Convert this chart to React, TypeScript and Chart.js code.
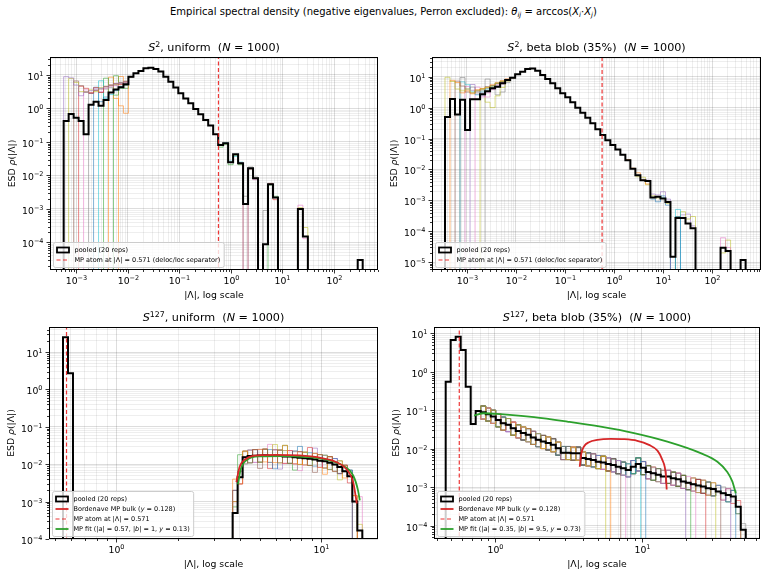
import React, { useEffect, useRef } from "react";
import { Chart, registerables } from "chart.js";

Chart.register(...registerables);

const FONT = "'DejaVu Sans', 'Liberation Sans', Arial, sans-serif";
const TAB10 = ["#1f77b4", "#ff7f0e", "#2ca02c", "#d62728", "#9467bd", "#8c564b", "#e377c2", "#7f7f7f", "#bcbd22", "#17becf"];
const MP_ATOM = 0.571;

// ---------------- DATA ----------------
// Panel 1: S^2 uniform. 60 log bins between 10^lo and 10^hi
const P1_BINS = { lo: -3.249, hi: 2.557, n: 60 };
const P1_POOLED = [0.42, 0.69, 0.53, 0.42, 0.17, 1.3, 1.6, 1.2, 1.8, 3.0, 3.7, 4.3, 5.3, 8.9, 11.3, 13.2, 15.8, 16.5, 15, 12.6, 8.9, 6.3, 4.2, 2.85, 2.0, 1.43, 0.97, 0.67, 0.45, 0.31, 0.17, 0.081, 0.091, 0.025, 0.043, 0.023, 0.0014, 0.0164, 0.0083, 0, 0.000089, 0.0055, 0.0022, 0, 0, 0, 0, 0.001, 0.00015, 0, 0, 0, 0, 0, 0, 0, 0, 0, 0, 0.00003];
const P1_REPS = [
  { c: 4, b: 0, up: 1, v: [8.9, 8.2, 5.0, 2.4, 3.0, 3.4, 3.8, 4.0, 4.5, 5.0, 5.5, 6.0, 6.5, 8.9] },
  { c: 8, b: 1, up: 1, v: [7.8, 6.0, 3.2, 3.0, 3.6, 3.2, 4.2, 4.6, 5.0, 5.3, 6.0, 6.5, 8.9] },
  { c: 5, b: 2, up: 1, v: [6.6, 4.8, 3.2, 2.8, 3.5, 3.8, 4.4, 4.8, 5.4, 6.0, 6.2, 8.9] },
  { c: 3, b: 3, up: 1, v: [4.6, 4.0, 3.0, 4.2, 3.0, 4.5, 5.0, 5.5, 5.2, 6.4, 8.9] },
  { c: 6, b: 4, up: 1, v: [3.6, 2.8, 3.5, 3.2, 4.0, 4.6, 4.8, 5.6, 6.0, 8.9] },
  { c: 7, b: 5, up: 1, v: [2.8, 3.4, 3.0, 3.8, 4.2, 5.0, 5.5, 5.8, 8.9] },
  { c: 0, b: 6, up: 1, v: [4.3, 1.6, 2.2, 3.0, 3.6, 4.2, 5.0, 8.9] },
  { c: 9, b: 7, up: 1, v: [6.7, 2.0, 2.6, 3.4, 4.5, 5.2, 8.9] },
  { c: 2, b: 8, up: 1, v: [8.0, 3.0, 2.5, 4.0, 5.0, 8.9] },
  { c: 1, b: 9, up: 1, v: [8.6, 2.0, 1.2, 0.72, 8.9] },
  { c: 2, b: 10, up: 1, v: [9.5, 5.5, 4.0, 8.9] },
  { c: 1, b: 11, up: 1, v: [9.0, 5.0, 8.9] },
  { c: 2, b: 31, v: [0.07, 0.085, 0.021, 0.04, 0.021] },
  { c: 9, b: 32, v: [0.095, 0.027, 0.037, 0.025] },
  { c: 7, b: 35, v: [0.023, 0.0024, 0.018, 0.009, 0, 0.0009, 0.0055] },
  { c: 5, b: 35, v: [0.022, 0, 0.015, 0.0085, 0] },
  { c: 6, b: 35, v: [0.024, 0, 0.016, 0.0075, 0] },
  { c: 2, b: 39, v: [0, 0, 0.0052, 0.0024, 0] },
  { c: 3, b: 41, v: [0.0058, 0.0019, 0] },
  { c: 6, b: 46, v: [0, 0.0013, 0.00013, 0] },
  { c: 8, b: 46, v: [0, 0.0011, 0.00028, 0] },
];

// Panel 2: S^2 beta blob
const P2_BINS = { lo: -3.443, hi: 2.68, n: 60 };
const P2_POOLED = [0.5, 1.9, 0.6, 1.8, 0.19, 1.86, 1.86, 2.7, 3.4, 4.2, 4.75, 6.1, 7.8, 9.3, 11.9, 14.5, 17.7, 18.6, 15.6, 11.3, 8.4, 6.1, 4.2, 2.9, 2.15, 1.48, 1.0, 0.68, 0.47, 0.31, 0.2, 0.13, 0.088, 0.062, 0.044, 0.03, 0.02, 0.0105, 0.0065, 0.0045, 0.0042, 0.00125, 0.0013, 0.00115, 0.00089, 0.000015, 0.00027, 0.00027, 0.00018, 0.000126, 0, 0, 0, 0, 0, 0.0000295, 0.000023, 0, 0, 0.0000117];
const P2_REPS = [
  { c: 8, b: 0, up: 1, v: [9.6, 7.0, 4.0, 3.5, 4.0, 3.0, 3.5, 4.0, 4.5, 5.0, 6.0, 7.0, 8.0, 9.3] },
  { c: 1, b: 1, up: 1, v: [7.6, 6.5, 3.0, 3.5, 2.8, 3.8, 4.2, 4.5, 5.5, 6.5, 7.5, 8.5, 9.3] },
  { c: 5, b: 2, up: 1, v: [7.2, 5.0, 3.2, 3.0, 3.5, 4.0, 4.8, 5.2, 6.0, 7.0, 8.0, 9.3] },
  { c: 7, b: 3, up: 1, v: [9.4, 4.0, 4.6, 3.0, 3.5, 4.2, 5.0, 6.0, 7.0, 7.5, 9.3] },
  { c: 9, b: 3, up: 1, v: [6.8, 5.5, 3.4, 2.6, 3.2, 4.0, 5.0, 6.3, 7.2, 8.0, 9.3] },
  { c: 6, b: 4, up: 1, v: [4.8, 3.6, 2.7, 2.2, 3.0, 4.2, 5.5, 6.5, 8.2, 9.3] },
  { c: 4, b: 5, up: 1, v: [5.6, 3.4, 2.4, 3.3, 4.0, 5.0, 6.5, 8.0, 9.3] },
  { c: 6, b: 6, up: 1, v: [4.6, 3.0, 2.2, 3.8, 4.6, 5.8, 7.5, 9.3] },
  { c: 8, b: 7, up: 1, v: [4.0, 1.5, 1.0, 2.4, 4.5, 7.2, 9.3] },
  { c: 7, b: 8, up: 1, v: [8.4, 4.5, 2.6, 3.2, 6.5, 9.3] },
  { c: 1, b: 36, v: [0.021, 0.011, 0.0078, 0.0046, 0.0034] },
  { c: 8, b: 38, v: [0.0058, 0.0056, 0.0032, 0.0014, 0.0012] },
  { c: 4, b: 40, v: [0.0045, 0.0016, 0.0015, 0.0019, 0.0011, 0] },
  { c: 0, b: 41, v: [0.0011, 0.0009, 0.0014, 0.0007, 0, 0.0003, 0] },
  { c: 9, b: 43, v: [0.0012, 0.0009, 0, 0.00051, 0] },
  { c: 8, b: 44, v: [0.0008, 0, 0.0003, 0.00043, 0.00025, 0.0003, 0] },
  { c: 4, b: 46, v: [0.0003, 0.00034, 0.00036, 0.00015, 0] },
  { c: 6, b: 54, v: [0, 0.000062, 0.00003, 0] },
  { c: 8, b: 55, v: [0.00002, 0.000052, 0] },
];

// Panel 3: S^127 uniform
const P3_BINS = { lo: -0.2605, hi: 1.2, n: 60 };
const P3_POOLED = [25, 2.7,
  0, 0, 0, 0, 0, 0, 0, 0, 0, 0,
  0, 0, 0, 0, 0, 0, 0, 0, 0, 0,
  0, 0, 0, 0, 0, 0, 0, 0, 0, 0,
  0, 0,
  0.0005, 0.0045, 0.0155, 0.0165, 0.017, 0.0172, 0.0175, 0.017, 0.0168, 0.0165,
  0.016, 0.016, 0.0155, 0.015, 0.0145, 0.014, 0.0135, 0.0125, 0.012, 0.011,
  0.0098, 0.0085, 0.0065, 0.0048, 0.001, 0.00017];
// per-replicate deviations from the pooled curve, bin by bin (l = low, h = high, m = same ...)
const P3_REPS = [
  { c: 5, o: 0, pat: "xhmlh Lhmhl mlhhm lLhmh mlhm" },
  { c: 1, o: 0, pat: "Xlhmh hlmlh Hmlhl mhlLh mhlmh" },
  { c: 8, o: 0, pat: "Hmhlm lhmHl hlmlh lmhhl mLhmh h" },
  { c: 0, o: 0, pat: "xmhlh lmhLh mlhHm hlmhl hlmh" },
  { c: 3, o: 0, pat: "Hlhmh lhLmh lhmlh Hmhlh lmhlm" },
  { c: 6, o: 0, pat: "xhlhl mhHhm lhlLm lhlml hlhmm X" },
  { c: 4, o: 0, pat: "Hlmhl hmlhL hmlhl mHlhl hlmh" },
  { c: 2, o: 0, pat: "hxlhm lhlmh HlLmh lhmlh lhmhm" },
];
const P3_RED_X = [3.85, 3.99, 4.3, 5.0, 6.03, 7.8, 9.8, 11.8, 13.2, 14.3, 14.9];
const P3_RED_Y = [0.0033, 0.0084, 0.0141, 0.0174, 0.0178, 0.0172, 0.015, 0.0115, 0.0076, 0.0033, 0.00089];
const P3_GREEN_X = [3.92, 4.03, 4.3, 5.0, 6.5, 8.45, 10.6, 12.7, 14.3, 15.1, 15.4];
const P3_GREEN_Y = [0.0029, 0.0069, 0.0127, 0.0163, 0.0166, 0.0156, 0.0132, 0.0093, 0.005, 0.002, 0.00108];

// Panel 4: S^127 beta blob
const P4_BINS = { lo: -0.336, hi: 1.709, n: 60 };
const P4_POOLED = [0.55, 6.7, 8.2, 3.7, 0.41, 0.044, 0.096, 0.089, 0.079, 0.069,
  0.056, 0.046, 0.042, 0.034, 0.029, 0.0255, 0.023, 0.0196, 0.017, 0.0153,
  0.014, 0.0126, 0.0103, 0.0079, 0.0079, 0.0076, 0.0076, 0.0057, 0.0054, 0.0051,
  0.0046, 0.0044, 0.004, 0.0038, 0.0034, 0.0031, 0.0028, 0.0034, 0.004, 0.0032,
  0.0025, 0.0023, 0.0021, 0.0019, 0.0019, 0.0017, 0.0016, 0.0014, 0.0013, 0.0012,
  0.0011, 0.00105, 0.00094, 0.0009, 0.00077, 0.0007, 0.00063, 0.00057, 0.00031, 0.000078];
const P4_REPS = [
  { c: 8, o: 0, pat: "mhlhl mhlhh lmhlh lhmlh lhlml h" },
  { c: 1, o: 0, pat: "mlhlh lmhlh hlmlh lhmlh lhlml hl" },
  { c: 5, o: 0, pat: "mhlhm lhlhl mhlhl hmlhl hlmhl hlhl" },
  { c: 6, o: 0, pat: "mlhlh mlhlh lhmlh lhlmh lhlhm lhlhl" },
  { c: 7, o: 0, pat: "mhlhl hmlhl hlmhl hlhml hlhlm hlhlh l" },
  { c: 9, o: 0, pat: "mlhlh lhmlh lhlmh lhlhm lhlhl mhlhl hlh" },
  { c: 0, o: 0, pat: "mhlhl hlmhl hlhml hlhlm hlhlh mlhlh lhlh" },
  { c: 4, o: 0, pat: "mlhlh lmhlh lhmlh lhlmh lhlhm lhlhl mhlhl hmlhl hl" },
  { c: 2, o: 0, pat: "mhlhl hmlhl hlmhl hlhml hlhlm hlhlh mlhlh lhmlh lhl" },
  { c: 6, o: 0, pat: "mlhlh mlhlh lmhlh lhmlh lhlmh lhlhm lhlhl mhlhl hlhl" },
  { c: 3, o: 0, pat: "mhlhl hmlhl hlmhl hlhml hlhlm hlhlh mlhlh lhmlh lhlmh l" },
  { c: 8, o: 0, pat: "mlhlh lmhlh lhmlh lhlmh lhlhm lhlhl mhlhl hmlhl hlmhl hlh" },
  { c: 5, o: 0, pat: "mhlhl mhlhl hmlhl hlmhl hlhml hlhlm hlhlh mlhlh lhmlh lhlm" },
  { c: 4, o: 0, pat: "mlhlh mlhlh lmhlh lhmlh lhlmh lhlhm lhlhl mhlhl hmlhl hlmhl h" },
  { c: 0, o: 0, pat: "mhlhl hmlhl hlmhl hlhml hlhlm hlhlh mlhlh lhmlh lhlmh lhlhm lh" },
  { c: 3, o: 0, pat: "mlhlh lmhlh lhmlh lhlmh lhlhm lhlhl mhlhl hmlhl hlmhl hlhml hlh" },
  { c: 7, o: 0, pat: "mhlhl mhlhl hmlhl hlmhl hlhml hlhlm hlhlh mlhlh lhmlh lhlmh lhlh" },
  { c: 2, o: 0, pat: "mlhlh lmhlh hlmlh lhmlh lhlml hlhlh mlhlh lhmlh lhlmh lhlhm lhl" },
];
const P4_RED_X = [3.78, 3.88, 4.04, 4.37, 4.98, 6.15, 7.57, 9.33, 11.2, 12.8, 13.8, 14.6, 14.8];
const P4_RED_Y = [0.0034, 0.0076, 0.0114, 0.0148, 0.017, 0.018, 0.0177, 0.0161, 0.0126, 0.0089, 0.0052, 0.0021, 0.00087];
const P4_GREEN_X = [0.719, 0.841, 1.094, 1.845, 3.11, 5.25, 8.86, 14.95, 25.2, 32.8, 38.3, 41.5, 43.7];
const P4_GREEN_Y = [0.0724, 0.0836, 0.079, 0.066, 0.0506, 0.0374, 0.0255, 0.0153, 0.0077, 0.0046, 0.0025, 0.0014, 0.0007];

// ---------------- helpers ----------------
type Run = { t: string; it?: boolean; sup?: boolean; sub?: boolean };
const FACT: Record<string, number> = { "0": 0, L: 0.45, l: 0.66, m: 1, h: 1.45, H: 2, x: 4, X: 8 };
const TINY = 1e-9;

function fontOf(r: Run, size: number) {
  const s = r.sup || r.sub ? size * 0.7 : size;
  return `${r.it ? "italic " : ""}${s}px ${FONT}`;
}
function runsWidth(ctx: CanvasRenderingContext2D, runs: Run[], size: number) {
  let w = 0;
  for (const r of runs) { ctx.font = fontOf(r, size); w += ctx.measureText(r.t).width; }
  return w;
}
function drawRuns(ctx: CanvasRenderingContext2D, runs: Run[], x: number, y: number, size: number, align: string) {
  const w = runsWidth(ctx, runs, size);
  let cx = align === "center" ? x - w / 2 : align === "right" ? x - w : x;
  ctx.textAlign = "left";
  ctx.textBaseline = "alphabetic";
  for (const r of runs) {
    ctx.font = fontOf(r, size);
    const dy = r.sup ? -size * 0.4 : r.sub ? size * 0.22 : 0;
    ctx.fillText(r.t, cx, y + dy);
    cx += ctx.measureText(r.t).width;
  }
}
function expRuns(e: number): Run[] {
  return [{ t: "10" }, { t: (e < 0 ? "\u2212" : "") + Math.abs(e), sup: true }];
}
function rgba(hex: string, a: number) {
  const n = parseInt(hex.slice(1), 16);
  return `rgba(${(n >> 16) & 255},${(n >> 8) & 255},${n & 255},${a})`;
}
function edgeAt(b: { lo: number; hi: number; n: number }, pos: number) {
  return Math.pow(10, b.lo + (pos * (b.hi - b.lo)) / b.n);
}
function stepPts(b: any, start: number, vals: number[], up: boolean, down: boolean) {
  const pts: { x: number; y: number }[] = [];
  if (up) pts.push({ x: edgeAt(b, start), y: TINY });
  vals.forEach((v, i) => pts.push({ x: edgeAt(b, start + i), y: v > 0 ? v : TINY }));
  const last = vals[vals.length - 1];
  pts.push({ x: edgeAt(b, start + vals.length), y: last > 0 ? last : TINY });
  if (down) pts.push({ x: edgeAt(b, start + vals.length), y: TINY });
  return pts;
}
function logTicks(min: number, max: number) {
  const out: { value: number; major: boolean }[] = [];
  for (let e = Math.floor(Math.log10(min)) - 1; e <= Math.ceil(Math.log10(max)); e++) {
    for (let k = 1; k <= 9; k++) {
      const v = parseFloat((k * Math.pow(10, e)).toPrecision(6));
      if (v >= min * 0.9999 && v <= max * 1.0001) out.push({ value: v, major: k === 1 });
    }
  }
  return out;
}

type LegendItem = { kind: string; color: string; runs: Run[] };

const L_POOLED: LegendItem = { kind: "box", color: "#000", runs: [{ t: "pooled (20 reps)" }] };
const L_ATOM_LONG: LegendItem = { kind: "dash", color: "rgba(235,20,20,0.85)", runs: [{ t: "MP atom at |\u039b| = 0.571 (deloc/loc separator)" }] };
const L_ATOM: LegendItem = { kind: "dash", color: "rgba(235,20,20,0.85)", runs: [{ t: "MP atom at |\u039b| = 0.571" }] };
const L_BORD: LegendItem = { kind: "line", color: "#d62728", runs: [{ t: "Bordenave MP bulk (" }, { t: "y", it: true }, { t: " = 0.128)" }] };
const fitRuns = (a: string, b: string, y: string): Run[] => [
  { t: "MP fit (|" }, { t: "a", it: true }, { t: "| = " + a + ", |" }, { t: "b", it: true }, { t: "| = " + b + ", " }, { t: "y", it: true }, { t: " = " + y + ")" },
];

const titleRuns = (sup: string, rest: string): Run[] => [
  { t: "S", it: true }, { t: sup, sup: true }, { t: ", " + rest + "  (" }, { t: "N", it: true }, { t: " = 1000)" },
];

const PANELS: any[] = [
  {
    left: 0, top: 28, w: 384, h: 272, ca: [50, 29, 378, 242],
    xMin: 3.06e-4, xMax: 715, yMin: 1.51e-5, yMax: 34.4,
    title: titleRuns("2", "uniform"), bins: P1_BINS, pooled: P1_POOLED, pieces: P1_REPS, patReps: [],
    fits: [], legend: [L_POOLED, L_ATOM_LONG],
  },
  {
    left: 384, top: 28, w: 383, h: 272, ca: [48, 29, 377, 242],
    xMin: 1.96e-4, xMax: 985, yMin: 5.6e-6, yMax: 43.4,
    title: titleRuns("2", "beta blob (35%)"), bins: P2_BINS, pooled: P2_POOLED, pieces: P2_REPS, patReps: [],
    fits: [], legend: [L_POOLED, L_ATOM_LONG],
  },
  {
    left: 0, top: 300, w: 384, h: 276, ca: [49, 27, 378, 239],
    xMin: 0.469, xMax: 18.9, yMin: 1e-4, yMax: 47,
    title: titleRuns("127", "uniform"), bins: P3_BINS, pooled: P3_POOLED, pieces: [], patReps: P3_REPS, patStart: 34, patUp: true,
    fits: [{ xs: P3_RED_X, ys: P3_RED_Y, color: "#d62728" }, { xs: P3_GREEN_X, ys: P3_GREEN_Y, color: "#2ca02c" }],
    legend: [L_POOLED, L_BORD, L_ATOM, { kind: "line", color: "#2ca02c", runs: fitRuns("0.57", "1", "0.13") }],
  },
  {
    left: 384, top: 300, w: 383, h: 276, ca: [50, 27, 376, 239],
    xMin: 0.384, xMax: 64, yMin: 4.5e-5, yMax: 14.6,
    title: titleRuns("127", "beta blob (35%)"), bins: P4_BINS, pooled: P4_POOLED, pieces: [], patReps: P4_REPS, patStart: 6, patUp: false,
    fits: [{ xs: P4_RED_X, ys: P4_RED_Y, color: "#d62728" }, { xs: P4_GREEN_X, ys: P4_GREEN_Y, color: "#2ca02c" }],
    legend: [L_POOLED, L_BORD, L_ATOM, { kind: "line", color: "#2ca02c", runs: fitRuns("0.35", "9.5", "0.73") }],
  },
];

function buildDatasets(s: any) {
  const ds: any[] = [];
  const base = { pointRadius: 0, pointHoverRadius: 0, fill: false, tension: 0 };
  for (const p of s.pieces) {
    ds.push({ ...base, data: stepPts(s.bins, p.b, p.v, !!p.up, !!p.down), borderColor: rgba(TAB10[p.c], 0.55), borderWidth: 1, stepped: "before", order: 10 });
  }
  for (const r of s.patReps) {
    const chars = r.pat.replace(/\s+/g, "").split("");
    const vals = chars.map((ch: string, i: number) => (s.pooled[s.patStart + i] || 0) * FACT[ch]);
    ds.push({ ...base, data: stepPts(s.bins, s.patStart + r.o, vals, !!s.patUp, true), borderColor: rgba(TAB10[r.c], 0.55), borderWidth: 1, stepped: "before", order: 10 });
  }
  ds.push({ ...base, data: stepPts(s.bins, 0, s.pooled, true, true), borderColor: "#000", borderWidth: 2, stepped: "before", order: 5 });
  for (const f of s.fits) {
    ds.push({ ...base, data: f.xs.map((x: number, i: number) => ({ x, y: f.ys[i] })), borderColor: f.color, borderWidth: 1.8, stepped: false, cubicInterpolationMode: "monotone", order: 2 });
  }
  ds.push({ ...base, data: [{ x: MP_ATOM, y: TINY }, { x: MP_ATOM, y: 1e9 }], borderColor: "rgba(235,20,20,0.85)", borderWidth: 1.2, borderDash: [4, 2.5], stepped: false, order: 1 });
  return ds;
}

const TICK_FS = 9.3;

function decor(s: any) {
  return {
    id: "decor",
    afterDraw(chart: any) {
      const ctx: CanvasRenderingContext2D = chart.ctx;
      const ca = chart.chartArea;
      const xs = chart.scales.x, ys = chart.scales.y;
      ctx.save();
      ctx.fillStyle = "#000";
      ctx.strokeStyle = "#000";
      ctx.lineWidth = 0.8;
      for (const t of xs.ticks) {
        const px = Math.round(xs.getPixelForValue(t.value)) + 0.5;
        ctx.beginPath(); ctx.moveTo(px, ca.bottom); ctx.lineTo(px, ca.bottom + (t.major ? 3.5 : 2)); ctx.stroke();
        if (t.major) drawRuns(ctx, expRuns(Math.round(Math.log10(t.value))), px, ca.bottom + 14, TICK_FS, "center");
      }
      for (const t of ys.ticks) {
        const py = Math.round(ys.getPixelForValue(t.value)) + 0.5;
        ctx.beginPath(); ctx.moveTo(ca.left, py); ctx.lineTo(ca.left - (t.major ? 3.5 : 2), py); ctx.stroke();
        if (t.major) drawRuns(ctx, expRuns(Math.round(Math.log10(t.value))), ca.left - 6.5, py + 4.3, TICK_FS, "right");
      }
      // frame
      ctx.lineWidth = 1;
      ctx.strokeRect(Math.round(ca.left) + 0.5, Math.round(ca.top) + 0.5, Math.round(ca.right - ca.left) - 1, Math.round(ca.bottom - ca.top) - 1);
      // titles
      drawRuns(ctx, s.title, (ca.left + ca.right) / 2, ca.top - 6, 11.2, "center");
      drawRuns(ctx, [{ t: "|\u039b|, log scale" }], (ca.left + ca.right) / 2, ca.bottom + 28, 9.3, "center");
      ctx.save();
      ctx.translate(ca.left - 35.5, (ca.top + ca.bottom) / 2);
      ctx.rotate(-Math.PI / 2);
      drawRuns(ctx, [{ t: "ESD " }, { t: "\u03c1", it: true }, { t: "(|\u039b|)" }], 0, 0, 9.3, "center");
      ctx.restore();
      // legend
      const fs = 6.5, rowH = 10, pad = 2.5, hw = 13, gap = 5;
      let tw = 0;
      for (const it of s.legend) tw = Math.max(tw, runsWidth(ctx, it.runs, fs));
      const bw = pad * 2 + hw + gap + tw + 2;
      const bh = pad * 2 + rowH * s.legend.length;
      const bx = ca.left + 3, by = ca.bottom - 3 - bh;
      ctx.beginPath();
      if ((ctx as any).roundRect) (ctx as any).roundRect(bx + 0.5, by + 0.5, bw, bh, 2);
      else ctx.rect(bx + 0.5, by + 0.5, bw, bh);
      ctx.fillStyle = "rgba(255,255,255,0.8)";
      ctx.fill();
      ctx.strokeStyle = "#cccccc";
      ctx.lineWidth = 1;
      ctx.stroke();
      s.legend.forEach((it: LegendItem, i: number) => {
        const yc = by + pad + rowH * i + rowH / 2 + 0.5;
        const hx = bx + pad + 1;
        ctx.setLineDash([]);
        if (it.kind === "box") {
          ctx.strokeStyle = it.color; ctx.lineWidth = 1.8;
          ctx.strokeRect(hx + 0.5, yc - 2.5, hw - 1, 5);
        } else {
          ctx.strokeStyle = it.color; ctx.lineWidth = it.kind === "dash" ? 1.2 : 1.8;
          if (it.kind === "dash") ctx.setLineDash([4, 2.5]);
          ctx.beginPath(); ctx.moveTo(hx, yc); ctx.lineTo(hx + hw, yc); ctx.stroke();
          ctx.setLineDash([]);
        }
        ctx.fillStyle = "#000";
        drawRuns(ctx, it.runs, hx + hw + gap, yc + fs * 0.36, fs, "left");
      });
      ctx.restore();
    },
  };
}

function makeScale(min: number, max: number, size: number, horizontal: boolean) {
  const ticks = logTicks(min, max);
  return {
    type: "logarithmic",
    min, max, bounds: "data",
    afterBuildTicks: (sc: any) => { sc.ticks = ticks.map((t) => ({ value: t.value, major: t.major })); },
    afterFit: (sc: any) => {
      if (horizontal) sc.height = size; else sc.width = size;
      sc.paddingLeft = 0; sc.paddingRight = 0; sc.paddingTop = 0; sc.paddingBottom = 0;
    },
    ticks: { display: false, autoSkip: false },
    grid: {
      color: (c: any) => (c.tick && c.tick.major ? "rgba(0,0,0,0.17)" : "rgba(0,0,0,0.085)"),
      lineWidth: 0.8,
      drawTicks: false,
    },
    border: { display: false },
  };
}

function Panel({ s }: { s: any }) {
  const ref = useRef<HTMLCanvasElement>(null);
  useEffect(() => {
    const [l, t, r, b] = s.ca;
    const chart = new Chart(ref.current as HTMLCanvasElement, {
      type: "line",
      data: { datasets: buildDatasets(s) },
      options: {
        animation: false,
        responsive: false,
        maintainAspectRatio: false,
        devicePixelRatio: 1,
        events: [],
        layout: { autoPadding: false, padding: { left: 0, top: t, right: s.w - r, bottom: 0 } },
        plugins: { legend: { display: false }, tooltip: { enabled: false }, title: { display: false } },
        scales: {
          x: makeScale(s.xMin, s.xMax, s.h - b, true),
          y: makeScale(s.yMin, s.yMax, l, false),
        },
      } as any,
      plugins: [decor(s)],
    });
    return () => chart.destroy();
  }, [s]);
  return (
    <canvas ref={ref} width={s.w} height={s.h}
      style={{ position: "absolute", left: s.left, top: s.top, width: s.w, height: s.h }} />
  );
}

export default function App() {
  const sub: React.CSSProperties = { fontSize: 7, verticalAlign: "-2px", lineHeight: 0 };
  return (
    <div style={{ position: "absolute", left: 0, top: 0, width: 767, height: 576, background: "#fff", overflow: "hidden" }}>
      <div style={{ position: "absolute", left: 0, top: 5, width: 767, textAlign: "center", fontFamily: FONT, fontSize: 10, lineHeight: "14px", color: "#000", whiteSpace: "nowrap" }}>
        Empirical spectral density (negative eigenvalues, Perron excluded): <i>θ</i><sub style={sub}><i>ij</i></sub> = arccos(<i>X</i><sub style={sub}><i>i</i></sub>·<i>X</i><sub style={sub}><i>j</i></sub>)
      </div>
      {PANELS.map((s, i) => <Panel key={i} s={s} />)}
    </div>
  );
}
